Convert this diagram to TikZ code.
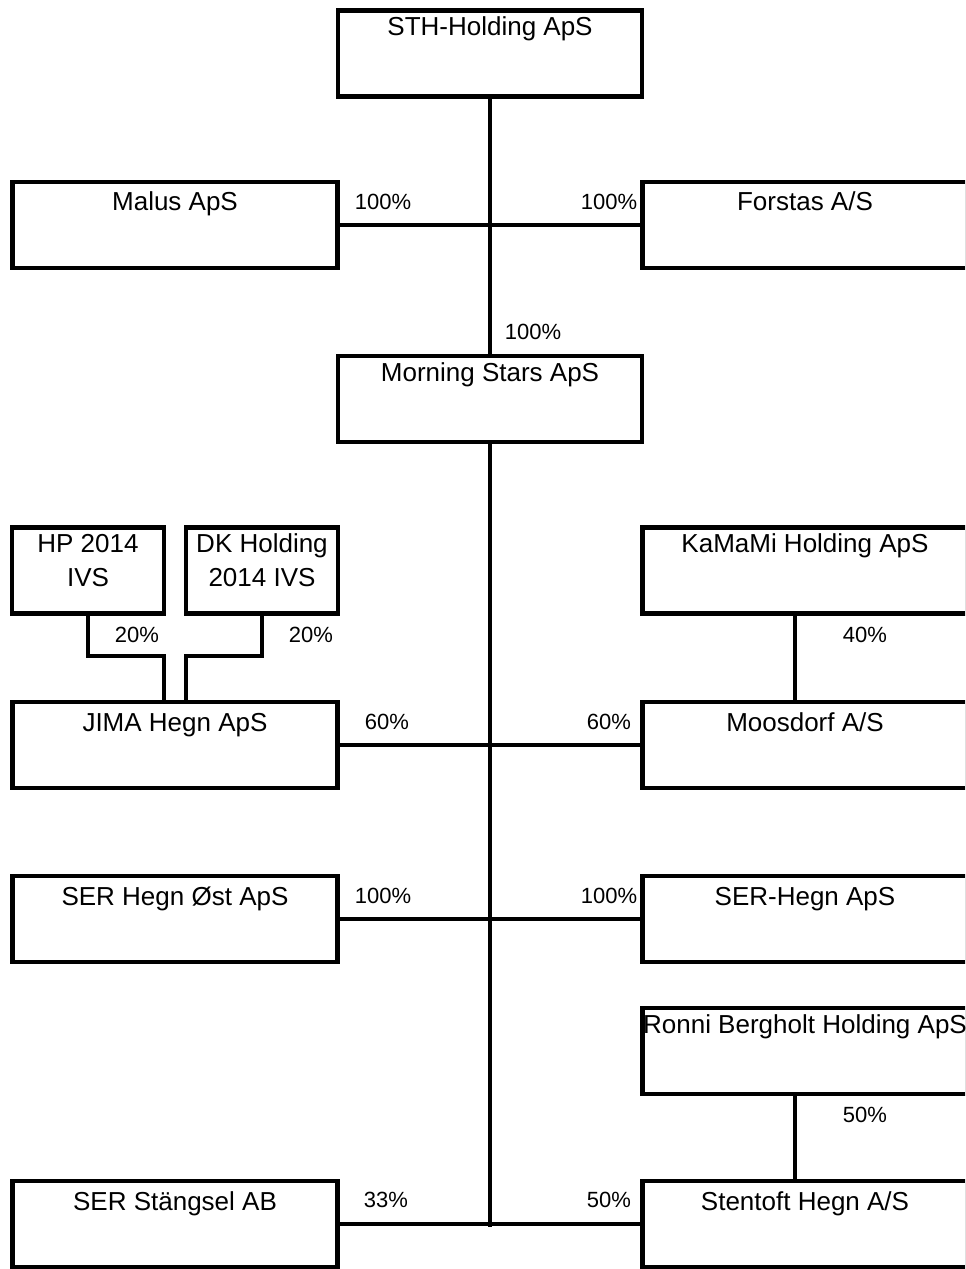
\documentclass[tikz,border=0pt]{standalone}
\usepackage{fontspec}
\setmainfont{Liberation Sans}

\begin{document}
\begin{tikzpicture}[x=0.75pt, y=-0.75pt,
	box/.style={draw, line width=3.5pt, inner sep=0pt, minimum height=64.5pt, font=\fontsize{19.5}{23}\selectfont},
	wide/.style={box, minimum width=243.75pt},
	mid/.style={box, minimum width=228pt},
	small/.style={box, minimum width=114pt},
	toptext/.style={text height=18.75pt, text depth=45.75pt},
	lowtext/.style={text height=21.75pt, text depth=42.75pt},
	pct/.style={font=\fontsize{16.5}{20}\selectfont, inner sep=0pt},
	link/.style={line width=3.5pt}]

				\clip (0, 0) rectangle (965, 1269);

				\node [mid, toptext] (STH) at (490, 53.5) {STH-Holding ApS};
				\node [wide, lowtext] (Malus) at (175, 225) {Malus ApS};
				\node [wide, lowtext] (Forstas) at (805, 225) {Forstas A/S};
				\node [mid, toptext] (Morning) at (490, 399) {Morning Stars ApS};

				\node [small, toptext] (HP) at (88, 570.5) {\begin{tabular}[t]{@{}c@{}}HP 2014\\[2.5pt]IVS\end{tabular}};
				\node [small, toptext] (DK) at (262, 570.5) {\begin{tabular}[t]{@{}c@{}}DK Holding\\[2.5pt]2014 IVS\end{tabular}};
				\node [wide, toptext] (KaMaMi) at (805, 570.5) {KaMaMi Holding ApS};

				\node [wide, lowtext] (JIMA) at (175, 745) {JIMA Hegn ApS};
				\node [wide, lowtext] (Moosdorf) at (805, 745) {Moosdorf A/S};

				\node [wide, lowtext] (SEROst) at (175, 919) {SER Hegn Øst ApS};
				\node [wide, lowtext] (SERHegn) at (805, 919) {SER-Hegn ApS};

				\node [wide, toptext] (Ronni) at (805, 1051) {Ronni Bergholt Holding ApS};

				\node [wide, lowtext] (Stang) at (175, 1224) {SER Stängsel AB};
				\node [wide, lowtext] (Stentoft) at (805, 1224) {Stentoft Hegn A/S};

				\node [pct] (pMalus) at (383, 202) {100\%};
				\node [pct] (pForstas) at (609, 202) {100\%};
				\node [pct] (pMorning) at (533, 332) {100\%};
				\node [pct] (pHP) at (137, 635) {20\%};
				\node [pct] (pDK) at (311, 635) {20\%};
				\node [pct] (pKaMaMi) at (865, 635) {40\%};
				\node [pct] (pJIMA) at (387, 722) {60\%};
				\node [pct] (pMoosdorf) at (609, 722) {60\%};
				\node [pct] (pSEROst) at (383, 896) {100\%};
				\node [pct] (pSERHegn) at (609, 896) {100\%};
				\node [pct] (pRonni) at (865, 1115) {50\%};
				\node [pct] (pStang) at (386, 1200) {33\%};
				\node [pct] (pStentoft) at (609, 1200) {50\%};

				\coordinate (stem) at (490, 1227);
				\coordinate (hpknee) at (164, 656);
				\coordinate (dkknee) at (186, 656);

				\draw [link] (STH.south) -- (Morning.north);
				\draw [link] (Morning.south) -- (stem);

				\draw [link] (Malus.east) -- (Forstas.west);
				\draw [link] (JIMA.east) -- (Moosdorf.west);
				\draw [link] (SEROst.east) -- (SERHegn.west);
				\draw [link] (Stang.east) -- (Stentoft.west);

				\draw [link] (HP.south) |- (hpknee) -- (hpknee |- JIMA.north);
				\draw [link] (DK.south) |- (dkknee) -- (dkknee |- JIMA.north);
				\draw [link] ([xshift=-7.5pt]KaMaMi.south) -- ([xshift=-7.5pt]Moosdorf.north);
				\draw [link] ([xshift=-7.5pt]Ronni.south) -- ([xshift=-7.5pt]Stentoft.north);
		\end{tikzpicture}
\end{document}
